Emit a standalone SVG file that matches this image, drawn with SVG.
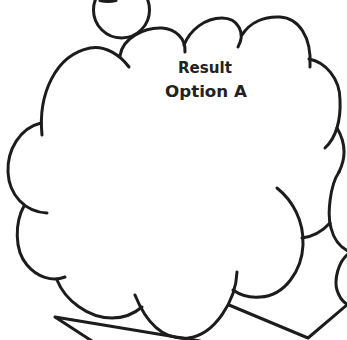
<svg xmlns="http://www.w3.org/2000/svg" width="347" height="340" viewBox="0 0 347 340">
<style>
.ln{fill:none;stroke:#1c1c1c;stroke-width:3;stroke-linecap:round;stroke-linejoin:round}
.tx{font-family:"DejaVu Sans","Liberation Sans",sans-serif;font-weight:bold;font-size:15px;fill:#222;text-anchor:middle}
</style>
<rect width="347" height="340" fill="#fff"/>
<g id="top-circle">
<circle class="ln" cx="121.5" cy="10" r="28"/>
<path class="ln" d="M100,0.5 Q108,2.5 116,0.5"/>
</g>
<g id="main-cloud">
<path class="ln" d="M42,135 C38,95 55,55 90,48 C105,45 120,55 129,67"/>
<path class="ln" d="M120,56 C122,38 145,27 162,28 C175,29 186,38 185,52"/>
<path class="ln" d="M184,45 C190,30 205,18 222,18 C238,18 246,33 238,47"/>
<path class="ln" d="M242,35 C250,22 265,16 280,17 C298,18 312,36 310,67"/>
<path class="ln" d="M309,59 C325,62 340,78 340,100 C341,120 336,138 325,148"/>
<path class="ln" d="M277,188 C292,200 304,220 303,245 C302,270 285,296 260,297 C248,298 240,295 233,290"/>
<path class="ln" d="M237,272 C236,300 215,335 188,338 C165,340 147,325 135,295"/>
<path class="ln" d="M57,280 C65,300 88,318 112,318 C125,318 135,313 142,307"/>
<path class="ln" d="M24,206 C15,222 14,250 27,265 C37,277 52,282 65,277"/>
<path class="ln" d="M41,123 C20,128 7,150 8,172 C9,195 25,212 47,213"/>
</g>
<g id="right-cloud">
<path class="ln" d="M337,128 Q350,150 339,172"/>
<path class="ln" d="M339,172 C330,185 327,215 331,228 C334,240 340,247 348,251"/>
<path class="ln" d="M348,254 C338,262 334,280 337,290 C339,297 343,302 348,305"/>
<path class="ln" d="M302,238 Q318,236 330,223"/>
</g>
<g id="connectors">
<path class="ln" d="M200,341 L55,317 L95,343"/>
<path class="ln" d="M229,305 L308,338 L348,304"/>
</g>
<g id="label">
<text class="tx" x="205" y="73" textLength="54" lengthAdjust="spacingAndGlyphs">Result</text>
<text class="tx" x="206" y="97" textLength="82" lengthAdjust="spacingAndGlyphs">Option A</text>
</g>
</svg>
